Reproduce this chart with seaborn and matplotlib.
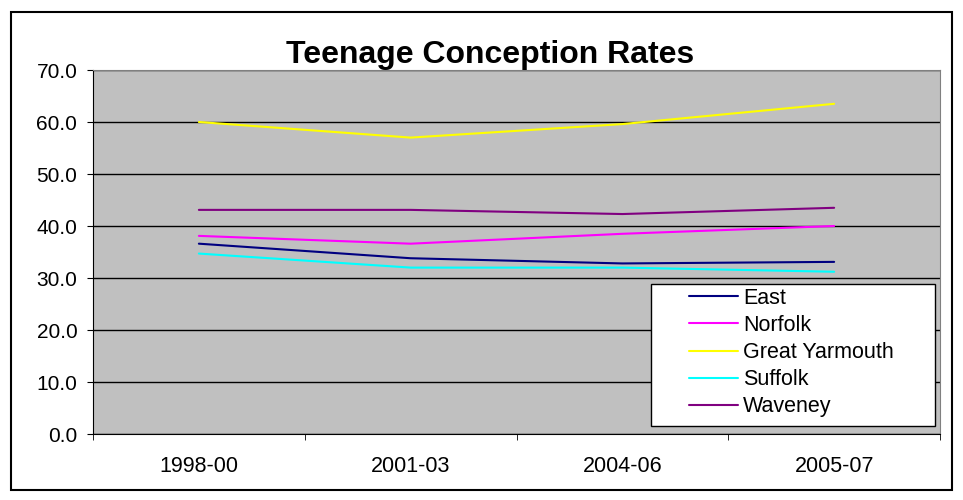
import seaborn as sns
import matplotlib.pyplot as plt
import pandas as pd
from matplotlib.patches import Rectangle

periods = ["1998-00", "2001-03", "2004-06", "2005-07"]
east = [36.6, 33.8, 32.8, 33.1]
norfolk = [38.1, 36.6, 38.5, 40.0]
yarmouth = [60.0, 57.0, 59.6, 63.5]
suffolk = [34.7, 32.0, 32.0, 31.2]
waveney = [43.1, 43.1, 42.3, 43.5]

areas = ["East", "Norfolk", "Great Yarmouth", "Suffolk", "Waveney"]
colours = ["#000080", "#FF00FF", "#FFFF00", "#00FFFF", "#800080"]

rows = []
for name, vals in zip(areas, [east, norfolk, yarmouth, suffolk, waveney]):
    for p, v in zip(periods, vals):
        rows.append({"Period": p, "Rate": v, "Area": name})
df = pd.DataFrame(rows)

sns.set_style("white")
plt.rcParams['font.family'] = ['Liberation Sans', 'DejaVu Sans']
plt.rcParams['text.color'] = 'black'
plt.rcParams['xtick.labelcolor'] = 'black'
plt.rcParams['ytick.labelcolor'] = 'black'

fig = plt.figure(figsize=(9.63, 5.0), dpi=100)
ax = fig.add_axes([93 / 963, 1 - 434 / 500, (940 - 93) / 963, (434 - 70) / 500])

sns.lineplot(data=df, x="Period", y="Rate", hue="Area", hue_order=areas,
             palette=colours, linewidth=1.5, ax=ax, sort=False)

ax.set_facecolor("#C0C0C0")
ax.set_xlim(-0.5, 3.5)
ax.set_ylim(0, 70)
ax.set_yticks(range(0, 71, 10))
ax.set_yticklabels([f"{v:.1f}" for v in range(0, 71, 10)], fontsize=15)
ax.set_xticks([0, 1, 2, 3])
ax.set_xticklabels(periods, fontsize=15.5)
ax.tick_params(axis="x", length=0, pad=16)
ax.set_xticks([-0.5, 0.5, 1.5, 2.5, 3.5], minor=True)
ax.tick_params(axis="x", which="minor", length=4.3, direction="out", color="black", bottom=True)
ax.tick_params(axis="y", length=4.3, direction="out", color="black", left=True, pad=7)
ax.grid(axis="y", color="black", linewidth=1)
ax.set_axisbelow(True)
ax.set_xlabel("")
ax.set_ylabel("")
for side in ["top", "right"]:
    ax.spines[side].set_color("#808080")
for side in ["left", "bottom"]:
    ax.spines[side].set_color("black")

fig.text(490 / 963, 1 - 63 / 500, "Teenage Conception Rates", fontsize=23,
         fontweight="bold", ha="center", va="baseline", color="black")

# legend box drawn separately so the handles can sit indented like Excel's
ax.add_patch(Rectangle((651 / 963, 1 - 426 / 500), 284 / 963, 142 / 500,
                       transform=fig.transFigure, facecolor="white",
                       edgecolor="black", linewidth=1, zorder=4, clip_on=False))
leg = ax.legend(loc="upper left", bbox_to_anchor=(689 / 963, 1 - 288 / 500),
                bbox_transform=fig.transFigure, frameon=False, fontsize=15.5,
                borderpad=0, labelspacing=0.28, handlelength=2.28,
                handletextpad=0.23, borderaxespad=0)
leg.set_zorder(5)
for line in leg.get_lines():
    line.set_linewidth(1.5)

fig.patches.append(Rectangle((11 / 963, 10 / 500), 941 / 963, 478 / 500,
                             transform=fig.transFigure, fill=False,
                             edgecolor="black", linewidth=1.5))

plt.savefig("out.png", dpi=100)
